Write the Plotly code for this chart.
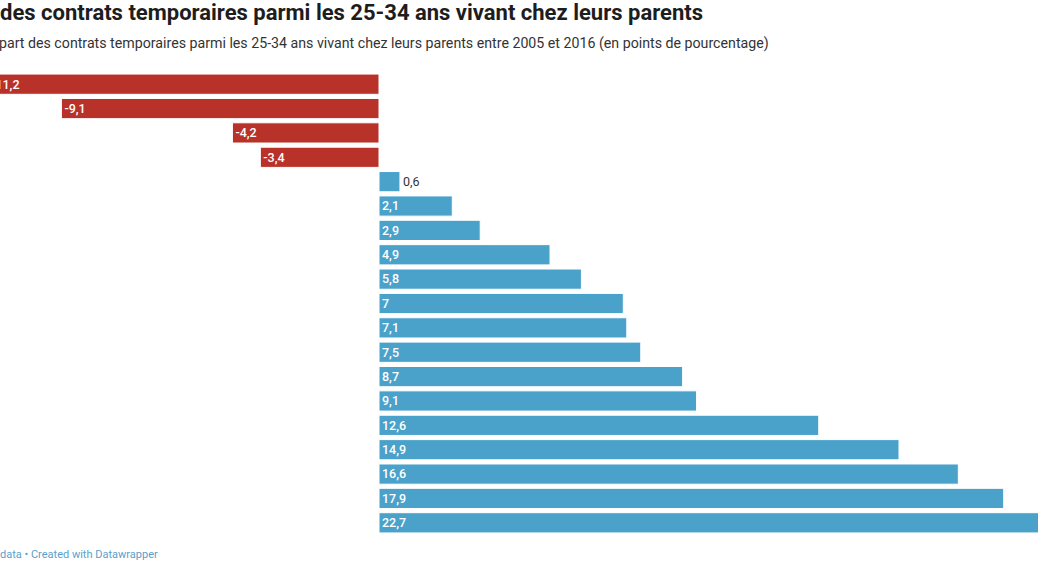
import plotly.graph_objects as go

# Row labels (country names are cropped out of the reference; rows kept in order)
rows = [f"r{i}" for i in range(1, 20)]
values = [-11.2, -9.1, -4.2, -3.4, 0.6, 2.1, 2.9, 4.9, 5.8, 7, 7.1, 7.5, 8.7, 9.1,
          12.6, 14.9, 16.6, 17.9, 22.7]
labels = [f"{v:g}".replace(".", ",") for v in values]

RED = "#b8322a"
BLUE = "#4aa2cb"

neg_rows = [r for r, v in zip(rows, values) if v < 0]
neg_vals = [v for v in values if v < 0]
neg_lab = [l for l, v in zip(labels, values) if v < 0]
pos_rows = [r for r, v in zip(rows, values) if v >= 0]
pos_vals = [v for v in values if v >= 0]
pos_lab = [l for l, v in zip(labels, values) if v >= 0]
pos_tp = ["outside" if v < 1 else "inside" for v in pos_vals]

fig = go.Figure()
fig.add_trace(go.Bar(
    y=neg_rows, x=neg_vals, orientation="h", marker=dict(color=RED, line=dict(color="white", width=1)),
    text=neg_lab, textposition="inside", insidetextanchor="end", textangle=0,
    textfont=dict(family="Roboto", size=13, color="white", weight=500), hoverinfo="skip",
    constraintext="none",
))
fig.add_trace(go.Bar(
    y=pos_rows, x=pos_vals, orientation="h", marker=dict(color=BLUE, line=dict(color="white", width=1)),
    text=pos_lab, textposition=pos_tp, insidetextanchor="start", textangle=0,
    insidetextfont=dict(family="Roboto", size=13, color="white", weight=500),
    outsidetextfont=dict(family="Roboto", size=12.5, color="#333333"),
    hoverinfo="skip", constraintext="none",
))

scale = 34.9
zero_px = 379.0
fig.update_layout(
    width=1038, height=576,
    margin=dict(l=0, r=0, t=72, b=41),
    paper_bgcolor="white", plot_bgcolor="white",
    showlegend=False, barmode="overlay", bargap=0.17,
    xaxis=dict(range=[-zero_px / scale, (1038 - zero_px) / scale], visible=False, fixedrange=True),
    yaxis=dict(categoryorder="array", categoryarray=rows, autorange="reversed", visible=False,
               fixedrange=True),
    font=dict(family="Roboto", color="#333333"),
    uniformtext=dict(minsize=12, mode="show"),
    annotations=[
        dict(text="<b>des contrats temporaires parmi les 25-34 ans vivant chez leurs parents</b>",
             xref="paper", yref="paper", x=0, y=1, xanchor="left", yanchor="bottom",
             xshift=-2, yshift=45, showarrow=False,
             font=dict(family="Roboto", size=22, color="#1d1d1d")),
        dict(text="part des contrats temporaires parmi les 25-34 ans vivant chez leurs parents entre 2005 et 2016 (en points de pourcentage)",
             xref="paper", yref="paper", x=0, y=1, xanchor="left", yanchor="bottom",
             xshift=-3, yshift=18, showarrow=False,
             font=dict(family="Roboto", size=14.2, color="#333333")),
        dict(text="data • Created with Datawrapper",
             xref="paper", yref="paper", x=0, y=0, xanchor="left", yanchor="top",
             xshift=-2, yshift=-11, showarrow=False,
             font=dict(family="Roboto", size=11, color="#5a9fcb")),
    ],
)

fig.write_html("out.html", config={"displayModeBar": False, "staticPlot": True},
               post_script="document.body.style.margin='0';document.body.style.overflow='hidden';")
